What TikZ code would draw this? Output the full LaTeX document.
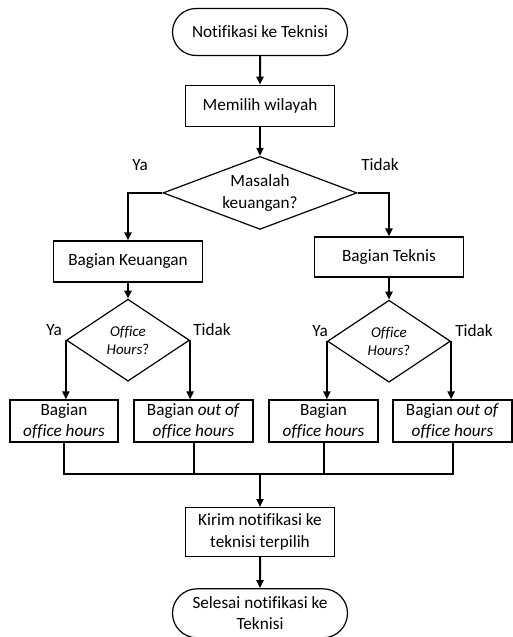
\documentclass[tikz,border=0pt]{standalone}
\usepackage{fontspec}
\setmainfont{Carlito}[Ligatures=NoCommon]
\usetikzlibrary{positioning,shapes.geometric,shapes.misc,arrows.meta}

\begin{document}
\begin{tikzpicture}[
  x=1pt, y=-1pt,
  every node/.style={align=center, font=\fontsize{17.2}{21.5}\selectfont, inner sep=2pt},
  terminal/.style={rounded rectangle, draw=black, line width=1.2pt, minimum width=179pt, minimum height=47pt},
  process/.style={rectangle, draw=black, line width=1.2pt, minimum width=149pt, minimum height=41pt},
  decision/.style={diamond, draw=black, line width=1.2pt, inner sep=0pt},
  officebox/.style={decision, aspect=1.5, minimum width=123pt, minimum height=82pt, font=\fontsize{15}{17.5}\selectfont\itshape},
  unit/.style={process, minimum height=42pt, inner sep=0pt},
  line/.style={-{Triangle[length=8pt,width=7pt]}, line width=2pt, draw=black},
  mergeline/.style={line width=2pt, draw=black}
]
\useasboundingbox (0,0) rectangle (513,637);

\node[terminal] (start) at (260,32) {Notifikasi ke Teknisi};
\node[process, below=28.5pt of start] (wilayah) {Memilih wilayah};
\node[decision, aspect=2.66, minimum width=194pt, minimum height=73pt, below=29pt of wilayah] (masalah) {Masalah\\keuangan?};

\node[process] (keuangan) at (128,261.5) {Bagian Keuangan};
\node[process, minimum height=40pt] (teknis) at (389,257) {Bagian Teknis};

\node[officebox, below=16pt of keuangan] (jamA) {Office\\Hours\upshape ?};
\node[officebox, below=22pt of teknis] (jamB) {Office\\Hours\upshape ?};

\node[unit, minimum width=108pt] (kantorA) at (64,421) {Bagian\\\textit{office hours}};
\node[unit, minimum width=119pt] (luarA) at (193.5,421) {Bagian \textit{out of}\\\textit{office hours}};
\node[unit, minimum width=109pt] (kantorB) at (323.5,421) {Bagian\\\textit{office hours}};
\node[unit, minimum width=119pt] (luarB) at (452.5,421) {Bagian \textit{out of}\\\textit{office hours}};

\coordinate (gabung) at (260,474);
\node[process, minimum height=49pt, below=33pt of gabung] (kirim) {Kirim notifikasi ke\\teknisi terpilih};
\node[terminal, minimum height=49pt, below=31pt of kirim] (selesai) {Selesai notifikasi ke\\Teknisi};

% Labels
\node (ya1) at (140,165) {Ya};
\node (tidak1) at (380,165) {Tidak};
\node (ya2) at (54,330) {Ya};
\node (tidak2) at (212,330) {Tidak};
\node (ya3) at (320,331) {Ya};
\node (tidak3) at (474,331) {Tidak};

% Arrows
\draw [line] (start) -- (wilayah);
\draw [line] (wilayah) -- (masalah);
\draw [line] (masalah.west) -| (keuangan.north);
\draw [line] (masalah.east) -| (teknis.north);
\draw [line] (keuangan) -- (jamA);
\draw [line] (teknis) -- (jamB);
\draw [line] (jamA.west) -- (jamA.west |- kantorA.north);
\draw [line] (jamA.east) -- (jamA.east |- luarA.north);
\draw [line] (jamB.west) -- (jamB.west |- kantorB.north);
\draw [line] (jamB.east) -- (jamB.east |- luarB.north);
\draw [mergeline] (kantorA.south) -- (kantorA.south |- gabung) -- (luarB.south |- gabung) -- (luarB.south);
\draw [mergeline] (luarA.south) -- (luarA.south |- gabung);
\draw [mergeline] (kantorB.south) -- (kantorB.south |- gabung);
\draw [line] (gabung) -- (kirim);
\draw [line] (kirim) -- (selesai);

\end{tikzpicture}
\end{document}
